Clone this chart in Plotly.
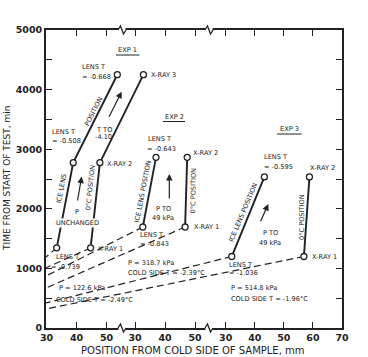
import plotly.graph_objects as go

# ---------------- data (position mm, time min) ----------------
exp1_lens_x = [33.4, 38.9, 53.6]
exp1_lens_t = [1345, 2774, 4250]
exp1_xray_x = [44.7, 47.8, 62.3]
exp1_xray_t = [1345, 2774, 4250]
exp1_lens_ext_x = [33.4, 29.83]
exp1_lens_ext_t = [1345, 1190]
exp1_xray_ext_x = [44.7, 29.83]
exp1_xray_ext_t = [1345, 1010]

exp2_lens_x = [32.6, 37.0]
exp2_lens_t = [1695, 2864]
exp2_xray_x = [46.7, 47.4]
exp2_xray_t = [1695, 2864]
exp2_lens_ext_x = [32.6, 0.33]
exp2_lens_ext_t = [1695, 873]
exp2_xray_ext_x = [46.7, 0.33]
exp2_xray_ext_t = [1695, 671]

exp3_lens_x = [32.1, 43.3]
exp3_lens_t = [1200, 2535]
exp3_xray_x = [56.9, 58.8]
exp3_xray_t = [1200, 2535]
exp3_lens_ext_x = [32.1, -31.8]
exp3_lens_ext_t = [1200, 420]
exp3_xray_ext_x = [56.9, -31.8]
exp3_xray_ext_t = [1200, 319]

x1_ticks = [30, 40, 50]
x2_ticks = [30, 40, 50]
x3_ticks = [30, 40, 50, 60, 70]
y_ticks = [0, 500, 1000, 1500, 2000, 2500, 3000, 3500, 4000, 4500, 5000]
y_ticktext = ["0", "", "1000", "", "2000", "", "3000", "", "4000", "", "5000"]

INK = "#222222"
TXT = "#222222"
FONT = "DejaVu Sans"
SMALL = 6.6

W, H = 368, 357
L, R, T, B = 46, 26, 30, 29
PW, PH = W - L - R, H - T - B


def P(px, py):
    return (px - L) / PW, (H - B - py) / PH


fig = go.Figure()


def solid(xs, ts, axis):
    fig.add_trace(go.Scatter(x=xs, y=ts, xaxis=axis, yaxis="y", mode="lines",
                             line=dict(color=INK, width=1.9), hoverinfo="skip",
                             showlegend=False))


def dashed(xs, ts, axis):
    fig.add_trace(go.Scatter(x=xs, y=ts, xaxis=axis, yaxis="y", mode="lines",
                             line=dict(color=INK, width=1.2, dash="7px,4px"),
                             hoverinfo="skip", showlegend=False))


def points(xs, ts, axis):
    fig.add_trace(go.Scatter(x=xs, y=ts, xaxis=axis, yaxis="y", mode="markers",
                             marker=dict(symbol="circle", size=6, color="white",
                                         line=dict(color=INK, width=1.3)),
                             hoverinfo="skip", showlegend=False))


for xs, ts, ax in [(exp1_lens_ext_x, exp1_lens_ext_t, "x"), (exp1_xray_ext_x, exp1_xray_ext_t, "x"),
                   (exp2_lens_ext_x, exp2_lens_ext_t, "x2"), (exp2_xray_ext_x, exp2_xray_ext_t, "x2"),
                   (exp3_lens_ext_x, exp3_lens_ext_t, "x3"), (exp3_xray_ext_x, exp3_xray_ext_t, "x3")]:
    dashed(xs, ts, ax)

for xs, ts, ax in [(exp1_lens_x, exp1_lens_t, "x"), (exp1_xray_x, exp1_xray_t, "x"),
                   (exp2_lens_x, exp2_lens_t, "x2"), (exp2_xray_x, exp2_xray_t, "x2"),
                   (exp3_lens_x, exp3_lens_t, "x3"), (exp3_xray_x, exp3_xray_t, "x3")]:
    solid(xs, ts, ax)
    points(xs, ts, ax)

annotations = []


def txt(px, py, text, anchor="center", angle=0, size=SMALL, bg=None):
    x, y = P(px, py)
    d = dict(x=x, y=y, xref="paper", yref="paper", text=text, showarrow=False,
             xanchor=anchor, yanchor="middle", textangle=angle,
             font=dict(family=FONT, size=size, color=TXT))
    if bg:
        d["bgcolor"] = bg
        d["borderpad"] = 0
    annotations.append(d)


def arrow(tx, ty, hx, hy):
    x, y = P(hx, hy)
    annotations.append(dict(x=x, y=y, xref="paper", yref="paper", text="",
                            showarrow=True, ax=tx - hx, ay=ty - hy,
                            arrowhead=2, arrowsize=1.1, arrowwidth=1.2,
                            arrowcolor=INK))


# EXP 1 labels
txt(127.7, 50, "EXP 1")
txt(80, 66.7, "LENS T", "left")
txt(80, 77.5, "= -0.668", "left")
txt(149, 75, "X-RAY 3", "left")
txt(50, 131.7, "LENS T", "left")
txt(50, 141, "= -0.508", "left")
txt(94, 130, "T TO", "left")
txt(93, 137, "-4.10", "left")
txt(105, 164.3, "X-RAY 2", "left")
txt(93.3, 111.7, "POSITION", angle=-63)
txt(61.5, 189, "ICE LENS", angle=-79)
txt(90.5, 188, "0°C POSITION", angle=-84)
txt(77.3, 211.7, "P", bg="white")
txt(77.5, 222.7, "UNCHANGED", bg="white")
txt(54, 256.7, "LENS T", "left")
txt(49, 266.7, "= -0.739", "left")
txt(95.5, 248.5, "X-RAY 1", "left")
txt(57, 288.3, "P = 122.6 kPa", "left")
txt(54, 300, "COLD SIDE T = -2.49°C", "left")
arrow(108.3, 118.3, 121.7, 91.7)
arrow(77.3, 202, 81.7, 176.5)

# EXP 2 labels
txt(174, 117, "EXP 2")
txt(146, 139.3, "LENS T", "left")
txt(145, 149.3, "= -0.643", "left")
txt(190.5, 152.7, "X-RAY 2", "left")
txt(142.5, 191.5, "ICE LENS POSITION", angle=-79)
txt(193.5, 191, "0°C POSITION", angle=-89)
txt(163, 209.3, "P TO")
txt(163, 218.3, "49 kPa")
txt(191.5, 226.7, "X-RAY 1", "left")
txt(138, 235, "LENS T", "left")
txt(138, 244, "= -0.843", "left")
txt(126, 263.3, "P = 318.7 kPa", "left")
txt(126, 273.3, "COLD SIDE T = -2.39°C", "left")
arrow(169.3, 200, 169.3, 174)

# EXP 3 labels
txt(289, 129.3, "EXP 3")
txt(261.7, 156.7, "LENS T", "left")
txt(261.7, 166.7, "= -0.595", "left")
txt(308.3, 168.3, "X-RAY 2", "left")
txt(243, 213, "ICE LENS POSITION", angle=-67)
txt(302, 217, "0°C POSITION", angle=-90)
txt(270, 232.7, "P TO")
txt(270, 243.3, "49 kPa")
txt(310, 256.7, "X-RAY 1", "left")
txt(227, 265, "LENS T", "left")
txt(227, 273.3, "= -1.036", "left")
txt(229, 288.3, "P = 514.8 kPa", "left")
txt(229, 299, "COLD SIDE T = -1.96°C", "left")
arrow(260, 222.7, 268.3, 204)

# axis titles
txt(7, 179, "TIME FROM START OF TEST, min", angle=-90, size=9)
txt(192.5, 350, "POSITION FROM COLD SIDE OF SAMPLE, mm", size=10)

shapes = []


def seg(x0, y0, x1, y1, w=1.0):
    a, b = P(x0, y0)
    c, d = P(x1, y1)
    shapes.append(dict(type="line", xref="paper", yref="paper", x0=a, y0=b, x1=c, y1=d,
                       line=dict(color=INK, width=w), layer="above"))


# underlines of EXP labels
seg(116, 55, 139.5, 55)
seg(163, 121.5, 185, 121.5)
seg(277, 134, 301.5, 134)


def axis_break(px, py):
    a, b = P(px - 3.5, py - 2)
    c, d = P(px + 3.5, py + 2)
    shapes.append(dict(type="rect", xref="paper", yref="paper", x0=a, y0=b, x1=c, y1=d,
                       fillcolor="white", line=dict(width=0), layer="above"))
    pts = [(px - 4, py), (px - 1.5, py - 4), (px + 1.5, py + 4), (px + 4, py)]
    path = "M " + " L ".join("%.5f,%.5f" % P(x, y) for x, y in pts)
    shapes.append(dict(type="path", xref="paper", yref="paper", path=path,
                       line=dict(color=INK, width=1.3), layer="above"))


for bx in (122, 209):
    axis_break(bx, 328)
    axis_break(bx, 30)

tickfont = dict(family=FONT, size=9.5, color=TXT, weight="bold")
common_x = dict(showline=True, linecolor=INK, linewidth=1.8, mirror="ticks",
                ticks="inside", ticklen=6, tickwidth=1.3, tickcolor=INK,
                showgrid=False, zeroline=False, tickfont=tickfont, anchor="y",
                domain=[0, 1], fixedrange=True)

fig.update_layout(
    width=W, height=H,
    margin=dict(l=L, r=R, t=T, b=B, pad=0),
    paper_bgcolor="white", plot_bgcolor="white",
    showlegend=False,
    xaxis=dict(range=[29.83, 128.5], tickvals=x1_ticks, ticktext=[str(v) for v in x1_ticks], **common_x),
    xaxis2=dict(range=[0.33, 99.0], tickvals=x2_ticks, ticktext=[str(v) for v in x2_ticks],
                overlaying="x", side="bottom", **common_x),
    xaxis3=dict(range=[-31.81, 70.0], tickvals=x3_ticks, ticktext=[str(v) for v in x3_ticks],
                overlaying="x", side="bottom", **common_x),
    yaxis=dict(range=[0, 5000], tickvals=y_ticks, ticktext=y_ticktext,
               showline=True, linecolor=INK, linewidth=1.8, mirror="ticks",
               ticks="inside", ticklen=6, tickwidth=1.3, tickcolor=INK,
               showgrid=False, zeroline=False, tickfont=tickfont, fixedrange=True),
    annotations=annotations,
    shapes=shapes,
)

fig.write_html("out.html")
